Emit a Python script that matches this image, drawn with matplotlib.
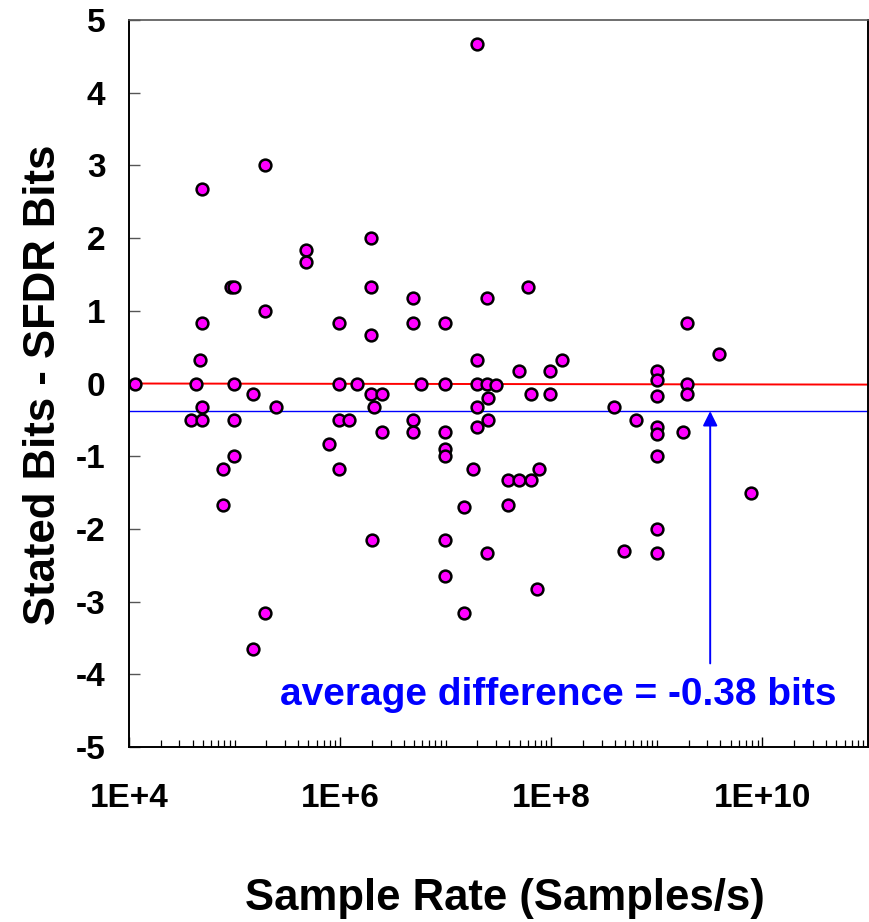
import numpy as np
import matplotlib
matplotlib.use("Agg")
import matplotlib.pyplot as plt
from matplotlib.ticker import FixedLocator, FixedFormatter, LogLocator, NullFormatter

plt.rcParams['font.family'] = ['Liberation Sans', 'DejaVu Sans']
plt.rcParams['font.weight'] = 'bold'

# Sample rate (samples/s) and stated-minus-SFDR bits for each converter
sample_rate = [
    1.15e4, 3.9e4, 4.3e4, 4.9e4, 4.9e4, 4.7e4, 4.9e4, 4.9e4, 7.7e4, 7.7e4,
    9.2e4, 9.8e4, 9.8e4, 9.8e4, 9.8e4, 1.5e5, 1.5e5, 1.95e5, 1.95e5, 1.95e5,
    2.45e5, 4.8e5, 4.8e5, 7.8e5, 9.7e5, 9.7e5, 9.7e5, 9.7e5, 1.2e6, 1.43e6,
    1.95e6, 1.95e6, 1.95e6, 1.95e6, 2.1e6, 2.0e6, 2.5e6, 2.5e6, 4.9e6, 4.9e6,
    4.9e6, 4.9e6, 5.8e6, 9.8e6, 9.8e6, 9.8e6, 9.8e6, 9.8e6, 9.8e6, 9.8e6,
    1.48e7, 1.48e7, 1.8e7, 1.96e7, 1.96e7, 1.96e7, 1.96e7, 1.96e7, 2.45e7, 2.45e7,
    2.5e7, 2.5e7, 2.45e7, 3.0e7, 3.9e7, 3.9e7, 4.9e7, 4.9e7, 6.4e7, 6.4e7,
    6.0e7, 7.4e7, 7.7e7, 9.8e7, 9.8e7, 1.25e8, 3.9e8, 4.9e8, 6.4e8, 1.0e9,
    1.0e9, 1.0e9, 1.0e9, 1.0e9, 1.0e9, 1.0e9, 1.0e9, 1.75e9, 1.95e9, 1.95e9,
    1.95e9, 3.9e9, 7.8e9,
]
bits_diff = [
    0.0, -0.5, 0.0, 2.67, 0.83, 0.33, -0.33, -0.5, -1.17, -1.67,
    1.33, 1.33, 0.0, -0.5, -1.0, -0.15, -3.65, 3.0, 1.0, -3.15,
    -0.33, 1.84, 1.67, -0.83, 0.0, -1.17, 0.83, -0.5, -0.5, 0.0,
    2.0, 1.33, 0.67, -0.15, -0.33, -2.15, -0.15, -0.67, 1.17, 0.83,
    -0.5, -0.67, 0.0, 0.83, 0.0, -0.67, -0.9, -1.0, -2.15, -2.65,
    -1.7, -3.15, -1.17, 4.67, 0.33, 0.0, -0.33, -0.6, 1.17, 0.0,
    -0.2, -0.5, -2.33, -0.02, -1.33, -1.67, -1.33, 0.17, -0.15, -1.33,
    1.33, -2.83, -1.17, 0.17, -0.15, 0.33, -0.33, -2.3, -0.5, 0.17,
    0.05, -0.17, -0.6, -0.7, -1.0, -2.0, -2.33, -0.67, 0.83, 0.0,
    -0.15, 0.4, -1.5,
]

x_range = [1e4, 1e11]
trend_ends = [0.0, -0.015]
average_diff = -0.38
arrow_rate = 3.2e9
arrow_base = -3.85
major_ticks = [1e4, 1e6, 1e8, 1e10]
major_labels = ['1E+4', '1E+6', '1E+8', '1E+10']
y_ticks = list(range(-5, 6))

fig = plt.figure(figsize=(8.7, 9.22), dpi=100)
ax = fig.add_axes([129 / 870, 1 - 747 / 922, (868 - 129) / 870, (747 - 20) / 922])

ax.set_xscale('log')
ax.set_xlim(*x_range)
ax.set_ylim(-5, 5)

# trend line and mean line
ax.plot(x_range, trend_ends, color='#ff0000', lw=1.4, zorder=2)
ax.plot(x_range, [average_diff, average_diff], color='#0000ff', lw=1.0, zorder=2)

ax.scatter(sample_rate, bits_diff, s=72, facecolor='#ff00ff', edgecolor='black',
           linewidth=1.8, zorder=3)

ax.annotate('', xy=(arrow_rate, average_diff), xytext=(arrow_rate, arrow_base),
            arrowprops=dict(arrowstyle='-|>', color='#0000ff', lw=1.4,
                            mutation_scale=22, shrinkA=0, shrinkB=0), zorder=4)
ax.text(0.957, 0.058, f'average difference = {average_diff:.2f} bits',
        transform=ax.transAxes, ha='right', va='baseline', color='#0000ff',
        fontsize=28, fontweight='bold')

ax.xaxis.set_major_locator(FixedLocator(major_ticks))
ax.xaxis.set_major_formatter(FixedFormatter(major_labels))
ax.xaxis.set_minor_locator(LogLocator(base=10, subs=np.arange(1, 10), numticks=200))
ax.xaxis.set_minor_formatter(NullFormatter())
ax.set_yticks(y_ticks)
ax.set_yticklabels([str(v) for v in y_ticks])

ax.tick_params(axis='x', which='major', direction='in', length=7.5, width=1.0,
               labelsize=24, pad=26)
ax.tick_params(axis='x', which='minor', direction='in', length=5, width=0.9)
ax.tick_params(axis='y', which='major', direction='in', length=8, width=1.0,
               labelsize=24, pad=17, color='#555555')
for lab in ax.get_xticklabels() + ax.get_yticklabels():
    lab.set_fontweight('bold')

for side in ['left', 'bottom', 'right']:
    ax.spines[side].set_linewidth(1.4)
    ax.spines[side].set_color('black')
ax.spines['top'].set_linewidth(1.2)
ax.spines['top'].set_color('#555555')

fig.text(505 / 870, 1 - 898 / 922, 'Sample Rate (Samples/s)', ha='center', va='center',
         fontsize=31.5, fontweight='bold')
fig.text(44 / 870, 1 - 385 / 922, 'Stated Bits - SFDR Bits', ha='center', va='center',
         rotation=90, fontsize=31.5, fontweight='bold')

fig.savefig('out.png', dpi=100)
